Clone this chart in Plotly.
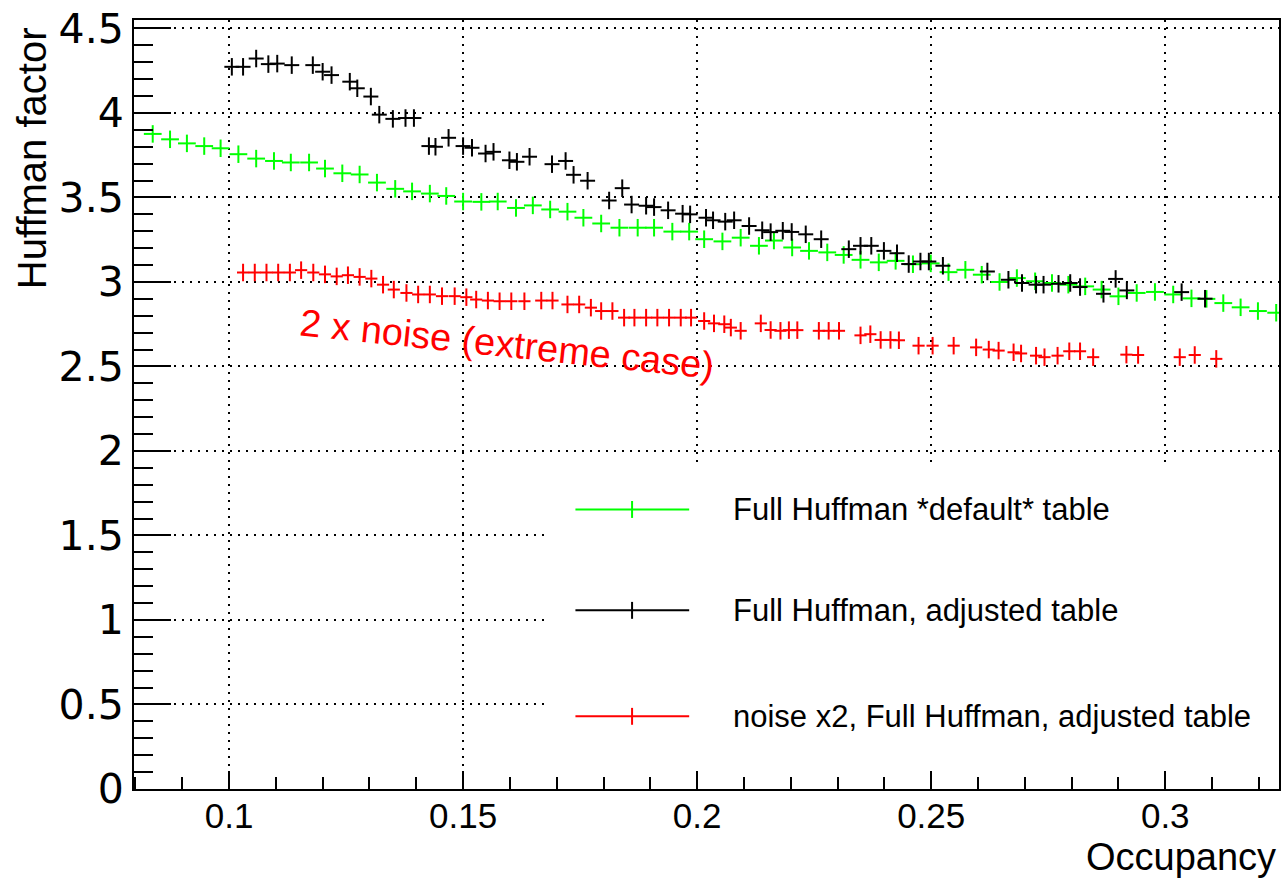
import plotly.graph_objects as go

# Occupancy / Huffman factor pairs for the three configurations
occ_default = [0.0837, 0.0874, 0.0910, 0.0947, 0.0982, 0.1020, 0.1058, 0.1096, 0.1132, 0.1171,
               0.1205, 0.1242, 0.1279, 0.1316, 0.1355, 0.1391, 0.1429, 0.1464, 0.1500, 0.1539,
               0.1574, 0.1613, 0.1649, 0.1686, 0.1723, 0.1757, 0.1795, 0.1834, 0.1873, 0.1908,
               0.1947, 0.1983, 0.2015, 0.2054, 0.2093, 0.2132, 0.2164, 0.2203, 0.2239, 0.2278,
               0.2313, 0.2349, 0.2388, 0.2424, 0.2461, 0.2499, 0.2537, 0.2573, 0.2608, 0.2646,
               0.2683, 0.2722, 0.2758, 0.2793, 0.2829, 0.2864, 0.2900, 0.2939, 0.2978, 0.3017,
               0.3056, 0.3088, 0.3124, 0.3161, 0.3198, 0.3237]
huff_default = [3.876, 3.844, 3.820, 3.804, 3.791, 3.756, 3.730, 3.716, 3.707, 3.707,
                3.671, 3.643, 3.636, 3.588, 3.551, 3.536, 3.523, 3.509, 3.476, 3.474,
                3.476, 3.438, 3.453, 3.429, 3.416, 3.380, 3.346, 3.321, 3.321, 3.321,
                3.298, 3.298, 3.253, 3.240, 3.262, 3.214, 3.245, 3.204, 3.184, 3.175,
                3.160, 3.131, 3.116, 3.125, 3.105, 3.110, 3.058, 3.072, 3.043, 3.000,
                3.023, 3.004, 2.994, 2.984, 2.974, 2.955, 2.915, 2.935, 2.941, 2.926,
                2.903, 2.900, 2.875, 2.850, 2.828, 2.818]

occ_adjusted = [0.1006, 0.1030, 0.1058, 0.1084, 0.1103, 0.1134, 0.1179, 0.1200, 0.1219, 0.1258,
                0.1274, 0.1303, 0.1321, 0.1350, 0.1377, 0.1395, 0.1427, 0.1441, 0.1469, 0.1500,
                0.1519, 0.1548, 0.1565, 0.1599, 0.1615, 0.1642, 0.1690, 0.1719, 0.1736, 0.1766,
                0.1812, 0.1840, 0.1860, 0.1891, 0.1908, 0.1938, 0.1969, 0.1985, 0.2019, 0.2034,
                0.2060, 0.2079, 0.2111, 0.2139, 0.2157, 0.2183, 0.2202, 0.2232, 0.2265, 0.2324,
                0.2349, 0.2372, 0.2399, 0.2427, 0.2452, 0.2477, 0.2495, 0.2525, 0.2620, 0.2665,
                0.2694, 0.2724, 0.2740, 0.2772, 0.2797, 0.2818, 0.2868, 0.2894, 0.2918, 0.3035,
                0.3085]
huff_adjusted = [4.273, 4.273, 4.322, 4.289, 4.292, 4.283, 4.283, 4.244, 4.224, 4.185,
                 4.146, 4.097, 3.990, 3.965, 3.970, 3.970, 3.804, 3.800, 3.853, 3.804,
                 3.794, 3.760, 3.770, 3.720, 3.711, 3.741, 3.697, 3.716, 3.634, 3.599,
                 3.482, 3.555, 3.458, 3.451, 3.443, 3.424, 3.404, 3.400, 3.380, 3.365,
                 3.357, 3.365, 3.331, 3.306, 3.295, 3.303, 3.296, 3.282, 3.253, 3.194,
                 3.214, 3.214, 3.184, 3.170, 3.106, 3.121, 3.121, 3.096, 3.062, 3.013,
                 2.994, 2.984, 2.984, 2.989, 2.994, 2.970, 2.930, 3.018, 2.950, 2.940,
                 2.901]

occ_noise = [0.1030, 0.1055, 0.1080, 0.1105, 0.1130, 0.1154, 0.1180, 0.1205, 0.1230, 0.1254,
             0.1279, 0.1304, 0.1329, 0.1352, 0.1379, 0.1404, 0.1429, 0.1455, 0.1482, 0.1507,
             0.1528, 0.1553, 0.1578, 0.1603, 0.1631, 0.1667, 0.1691, 0.1723, 0.1748, 0.1773,
             0.1795, 0.1819, 0.1844, 0.1866, 0.1891, 0.1915, 0.1940, 0.1965, 0.1987, 0.2015,
             0.2036, 0.2058, 0.2072, 0.2093, 0.2136, 0.2157, 0.2178, 0.2196, 0.2214, 0.2260,
             0.2281, 0.2303, 0.2349, 0.2370, 0.2392, 0.2413, 0.2431, 0.2473, 0.2503, 0.2548,
             0.2596, 0.2623, 0.2644, 0.2676, 0.2692, 0.2724, 0.2742, 0.2770, 0.2795, 0.2818,
             0.2846, 0.2917, 0.2942, 0.3031, 0.3063, 0.3109]
huff_noise = [3.056, 3.056, 3.056, 3.056, 3.056, 3.070, 3.056, 3.045, 3.033, 3.040,
              3.030, 3.020, 2.984, 2.955, 2.935, 2.926, 2.926, 2.916, 2.916, 2.910,
              2.896, 2.890, 2.886, 2.886, 2.886, 2.890, 2.890, 2.867, 2.867, 2.848,
              2.828, 2.828, 2.789, 2.789, 2.789, 2.789, 2.789, 2.789, 2.789, 2.769,
              2.755, 2.750, 2.730, 2.711, 2.755, 2.716, 2.711, 2.715, 2.715, 2.711,
              2.711, 2.711, 2.684, 2.691, 2.657, 2.657, 2.655, 2.623, 2.623, 2.623,
              2.613, 2.600, 2.594, 2.584, 2.577, 2.564, 2.555, 2.564, 2.590, 2.590,
              2.555, 2.570, 2.568, 2.555, 2.568, 2.545]

series_names = ["Full Huffman *default* table",
                "Full Huffman, adjusted table",
                "noise x2, Full Huffman, adjusted table"]
series_colors = ["#00ff00", "#000000", "#ff0000"]

x_tickvals = [0.1, 0.15, 0.2, 0.25, 0.3]
x_ticktext = ["0.1", "0.15", "0.2", "0.25", "0.3"]
y_tickvals = [0, 0.5, 1, 1.5, 2, 2.5, 3, 3.5, 4, 4.5]
y_ticktext = ["0", "0.5", "1", "1.5", "2", "2.5", "3", "3.5", "4", "4.5"]

X_RANGE = [0.0797, 0.3243]
Y_RANGE = [0, 4.55]

fig = go.Figure()

# each point: a vertical tick plus a horizontal bar spanning its bin
half_widths = [0.0019, 0.0016, 0.0013]
series_data = [(occ_default, huff_default), (occ_adjusted, huff_adjusted), (occ_noise, huff_noise)]
for (xs, ys), name, color, hw in zip(series_data, series_names, series_colors, half_widths):
    fig.add_trace(go.Scatter(
        x=xs, y=ys, mode="markers", name=name, showlegend=False,
        marker=dict(symbol="line-ns", size=12.5, color=color, line=dict(width=2, color=color)),
        error_x=dict(type="constant", value=hw, width=0, thickness=2, color=color),
    ))

shapes = []
annotations = []

# legend panel (white box hiding the grid underneath)
shapes.append(dict(type="rect", xref="x", yref="y", x0=0.1684, x1=X_RANGE[1], y0=0, y1=1.92,
                   fillcolor="white", line=dict(width=0), layer="between"))
legend_rows = [1.654, 1.057, 0.430]
for name, color, ly in zip(series_names, series_colors, legend_rows):
    shapes.append(dict(type="line", xref="x", yref="y", x0=0.1740, x1=0.1983, y0=ly, y1=ly,
                       line=dict(color=color, width=2)))
    shapes.append(dict(type="line", xref="x", yref="y", x0=0.1861, x1=0.1861, y0=ly - 0.05, y1=ly + 0.05,
                       line=dict(color=color, width=2)))
    annotations.append(dict(x=0.2072, y=ly, xref="x", yref="y", text=name, showarrow=False,
                            xanchor="left", yanchor="middle",
                            font=dict(family="Liberation Sans, Arial, sans-serif", size=31, color="#000000")))

annotations.append(dict(x=0.1593, y=2.633, xref="x", yref="y", text="2 x noise (extreme case)",
                        showarrow=False, textangle=6, xanchor="center", yanchor="middle",
                        font=dict(family="Liberation Sans, Arial, sans-serif", size=38, color="#ff0000")))

annotations.append(dict(x=-0.0889, y=0.9936, xref="paper", yref="paper", text="Huffman factor",
                        showarrow=False, textangle=-90, xanchor="center", yanchor="top",
                        font=dict(family="Liberation Sans, Arial, sans-serif", size=40, color="#000000")))
annotations.append(dict(x=0.9991, y=-0.0885, xref="paper", yref="paper", text="Occupancy",
                        showarrow=False, xanchor="right", yanchor="middle",
                        font=dict(family="Liberation Sans, Arial, sans-serif", size=38, color="#000000")))

fig.update_layout(
    width=1286, height=879,
    margin=dict(l=134, r=5, t=13, b=90),
    paper_bgcolor="white", plot_bgcolor="white",
    shapes=shapes, annotations=annotations,
    xaxis=dict(
        range=X_RANGE, tickmode="array", tickvals=x_tickvals, ticktext=x_ticktext,
        ticks="inside", ticklen=18, tickwidth=2, tickcolor="black",
        showline=True, linecolor="black", linewidth=2, mirror=True,
        showgrid=True, gridcolor="black", gridwidth=1.5, griddash="2px,6px",
        zeroline=False, ticklabelstandoff=-5, ticklabeloverflow="allow",
        tickfont=dict(family="Liberation Sans, Arial, sans-serif", size=35, color="black"),
        minor=dict(dtick=0.01, tick0=0, ticks="inside", ticklen=12, tickwidth=2,
                   tickcolor="black", showgrid=False),
    ),
    yaxis=dict(
        range=Y_RANGE, tickmode="array", tickvals=y_tickvals, ticktext=y_ticktext,
        ticks="inside", ticklen=37, tickwidth=2, tickcolor="black",
        showline=True, linecolor="black", linewidth=2, mirror=True,
        showgrid=True, gridcolor="black", gridwidth=1.5, griddash="2px,6px",
        zeroline=False, ticklabelstandoff=0, ticklabeloverflow="allow",
        tickfont=dict(family="DejaVu Sans, sans-serif", size=41, color="black"),
        minor=dict(dtick=0.1, tick0=0, ticks="inside", ticklen=19, tickwidth=2,
                   tickcolor="black", showgrid=False),
    ),
)

fig.write_html("out.html")
